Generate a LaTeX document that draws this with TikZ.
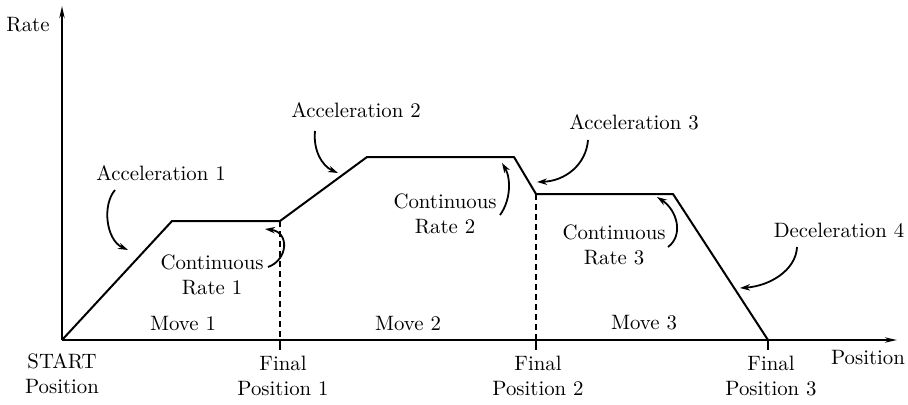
\documentclass[tikz,border=0pt]{standalone}
\usetikzlibrary{arrows.meta,positioning}

\begin{document}
\begin{tikzpicture}[x=0.5pt,y=-0.5pt,every node/.style={inner sep=1pt,font=\fontsize{10.4}{12.4}\selectfont},
      prof/.style={line width=1pt,line join=round},
      axis/.style={line width=1pt,-{Stealth[length=6pt,width=2.6pt]}},
      callout/.style={line width=0.9pt,-{Stealth[length=5pt,width=3.2pt]}},
      lbl/.style={align=center}]
    \useasboundingbox (0,0) rectangle (908,404);
    % profile corners
    \coordinate (o)  at (62,340);
    \coordinate (p1) at (172,221);
    \coordinate (p2) at (280,221);
    \coordinate (p3) at (367,157);
    \coordinate (p4) at (514,157);
    \coordinate (p5) at (536,194);
    \coordinate (p6) at (673,194);
    \coordinate (p7) at (768,340);
    \coordinate (ytop) at (62,6);
    \coordinate (xend) at (897,340);
    \coordinate (b1) at (280,340);
    \coordinate (b2) at (536,340);
    \coordinate (t1) at (280,350);
    \coordinate (t2) at (536,350);
    \coordinate (t3) at (768,350);
    \draw[axis] (o) -- (ytop);
    \draw[axis] (o) -- (xend);
    \draw[prof] (o) -- (p1) -- (p2) -- (p3) -- (p4) -- (p5) -- (p6) -- (p7);
    \draw[line width=1pt,dash pattern=on 3pt off 2pt] (p2) -- (b1);
    \draw[line width=1pt,dash pattern=on 3pt off 2pt] (p5) -- (b2);
    \foreach \a/\b in {b1/t1,b2/t2,p7/t3}{\draw[line width=0.8pt](\a)--(\b);}
    % labels
    \node (rate)  at (28,25)   {Rate};
    \node (position) at (868,357) {Position};
    \node[lbl] (start) at (62,374)  {START\\Position};
    \node[lbl] (fin1)  at (283,376) {Final\\Position 1};
    \node[lbl] (fin2)  at (538,376) {Final\\Position 2};
    \node[lbl] (fin3)  at (771,376) {Final\\Position 3};
    \node (mv1) at (183,323) {Move 1};
    \node (mv2) at (408,323) {Move 2};
    \node (mv3) at (644,323) {Move 3};
    \node (acc1) at (161,173) {Acceleration 1};
    \node (acc2) at (356,110) {Acceleration 2};
    \node (acc3) at (634,122) {Acceleration 3};
    \node (dec4) at (839,230) {Deceleration 4};
    \node[lbl] (cr1) at (212,275) {Continuous\\Rate 1};
    \node[lbl] (cr2) at (445,214) {Continuous\\Rate 2};
    \node[lbl] (cr3) at (614,245) {Continuous\\Rate 3};
    % callout arrows
    \coordinate (a1s) at (115,190);  \coordinate (a1e) at (128,250);
    \coordinate (a2s) at (315,131);  \coordinate (a2e) at (338,173);
    \coordinate (a3s) at (588,140);  \coordinate (a3e) at (537,182);
    \coordinate (d4s) at (797,247);  \coordinate (d4e) at (740,288);
    \coordinate (c1s) at (268,267);  \coordinate (c1e) at (265,229);
    \coordinate (c2s) at (500,215);  \coordinate (c2e) at (502,163);
    \coordinate (c3s) at (668,247);  \coordinate (c3e) at (657,197);
    \draw[callout] (a1s) .. controls (102,205) and (106,240) .. (a1e);
    \draw[callout] (a2s) .. controls (313,150) and (322,166) .. (a2e);
    \draw[callout] (a3s) .. controls (586,165) and (565,181) .. (a3e);
    \draw[callout] (d4s) .. controls (796,270) and (770,286) .. (d4e);
    \draw[callout] (c1s) .. controls (288,260) and (290,232) .. (c1e);
    \draw[callout] (c2s) .. controls (511,200) and (511,178) .. (c2e);
    \draw[callout] (c3s) .. controls (684,235) and (677,210) .. (c3e);
  \end{tikzpicture}
\end{document}
